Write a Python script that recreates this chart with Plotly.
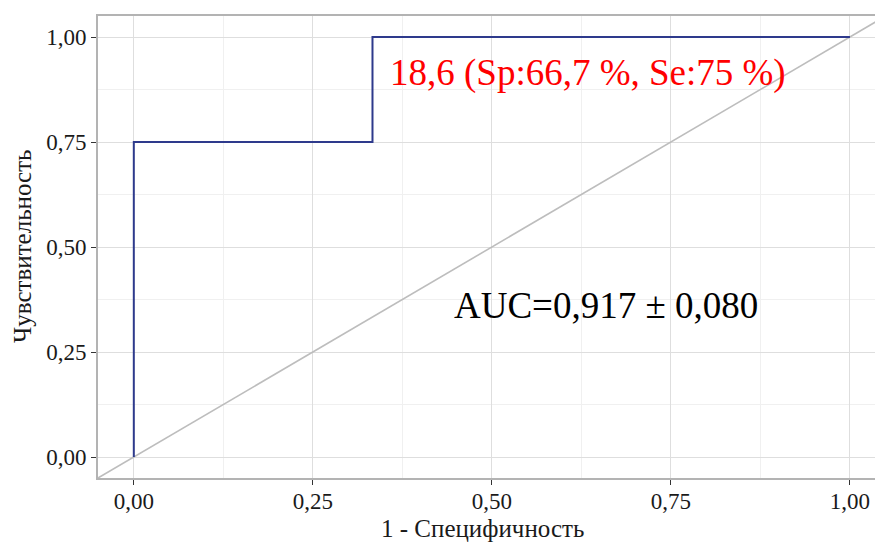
import plotly.graph_objects as go

# ROC data
fpr = [0.0, 0.0, 0.3333, 0.3333, 1.0]
tpr = [0.0, 0.75, 0.75, 1.0, 1.0]
diag = [-0.05, 1.06]
tick_vals = [0.0, 0.25, 0.5, 0.75, 1.0]
tick_text = ["0,00", "0,25", "0,50", "0,75", "1,00"]
cut_label = "18,6 (Sp:66,7 %, Se:75 %)"
auc_label = "AUC=0,917 ± 0,080"
x_title = "1 - Специфичность"
y_title = "Чувствительность"

SERIF = "Liberation Serif, Times New Roman, serif"

fig = go.Figure()
fig.add_trace(go.Scatter(x=diag, y=diag, mode="lines",
                         line=dict(color="#BDBDBD", width=1.6), hoverinfo="skip"))
fig.add_trace(go.Scatter(x=fpr, y=tpr, mode="lines",
                         line=dict(color="#2E3A8C", width=2)))

fig.add_annotation(x=0.634, y=0.914, text=cut_label, showarrow=False,
                   font=dict(family=SERIF, size=37, color="#FF0000"))
fig.add_annotation(x=0.659, y=0.36, text=auc_label, showarrow=False,
                   font=dict(family=SERIF, size=37, color="#000000"))

# axis titles
fig.add_annotation(xref="paper", yref="paper", x=0.495, y=-0.1405, text=x_title,
                   showarrow=False, xanchor="center", yanchor="bottom", borderpad=0,
                   font=dict(family=SERIF, size=25, color="#1a1a1a"))
fig.add_annotation(xref="paper", yref="paper", x=-0.098, y=0.502, text=y_title,
                   showarrow=False, textangle=-90, xanchor="center", yanchor="middle",
                   font=dict(family=SERIF, size=25, color="#1a1a1a"))

axis_common = dict(
    tickvals=tick_vals, ticktext=tick_text,
    showgrid=True, gridcolor="#DEDEDE", gridwidth=1,
    minor=dict(dtick=0.125, tick0=0.125, showgrid=True, gridcolor="#F0F0F0", gridwidth=1, ticks=""),
    ticks="outside", ticklen=5, tickcolor="#333333", tickwidth=1,
    tickfont=dict(family=SERIF, size=23, color="#1a1a1a"),
    showline=True, linecolor="#B3B3B3", linewidth=1.6,
    zeroline=False,
)

fig.update_layout(
    width=875, height=543,
    margin=dict(l=98, r=0, t=16, b=65),
    paper_bgcolor="white", plot_bgcolor="white",
    showlegend=False,
    xaxis=dict(range=[-0.05, 1.035], mirror=True, ticklabelstandoff=-3, **axis_common),
    yaxis=dict(range=[-0.05, 1.05], mirror=False, **axis_common),
)

fig.write_html("out.html")
